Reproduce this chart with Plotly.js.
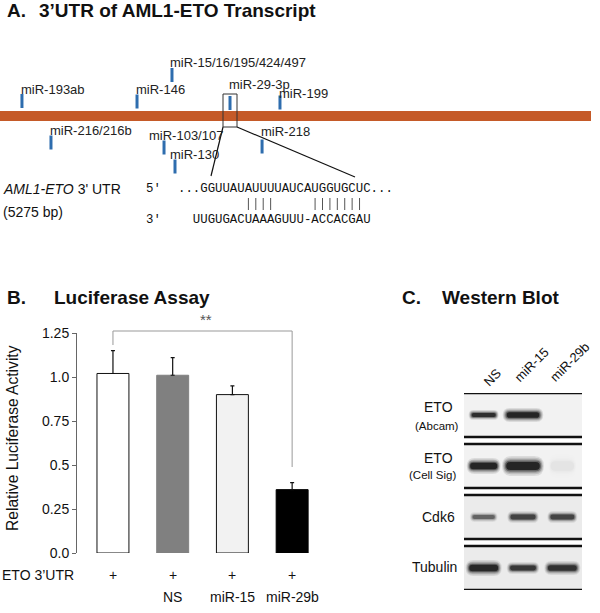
<!DOCTYPE html>
<html><head><meta charset="utf-8">
<script src="https://cdn.plot.ly/plotly-3.0.1.min.js"></script>
<style>html,body{margin:0;padding:0;background:#fff}#chart{width:600px;height:613px}</style>
</head><body><div id="chart"></div>
<script>
// ---------------- data ----------------
const utrLength = 5275;
const siteNames = ["miR-193ab","miR-216/216b","miR-146","miR-103/107","miR-15/16/195/424/497","miR-130","miR-29-3p","miR-218","miR-199"];
const sitePositions = [196, 455, 1223, 1464, 1535, 1562, 2053, 2339, 2499];
const seqUTR = "...GGUUAUAUUUUAUCAUGGUGCUC...";
const seqMiR = "  UUGUGACUAAAGUUU-ACCACGAU";
const pairLine = "         ||||     |||||||";

const lucGroups = [0, 1, 2, 3];
const lucConstruct = ["+", "+", "+", "+"];
const lucTreatment = ["", "NS", "miR-15", "miR-29b"];
const lucValues = [1.02, 1.01, 0.90, 0.36];
const lucErrors = [0.13, 0.10, 0.05, 0.04];
const lucTickVals = [0, 0.25, 0.5, 0.75, 1, 1.25];
const lucTickText = ["0.0", "0.25", "0.5", "0.75", "1.0", "1.25"];

const blotLanes = ["NS", "miR-15", "miR-29b"];
const blotRows = ["ETO", "ETO", "Cdk6", "Tubulin"];
const blotRowSub = ["(Abcam)", "(Cell Sig)", "", ""];
const bandIntensity = [[0.9, 1.0, 0.0], [1.0, 1.0, 0.035], [0.5, 0.72, 0.7], [0.95, 0.8, 0.85]];

// ---------------- styles / layout helpers ----------------
const bandWidth = [[0.66, 0.89, 0], [0.74, 0.92, 0.64], [0.61, 0.69, 0.66], [0.79, 0.71, 0.79]];
const bandThick = [[5, 7, 0], [8, 10, 12], [5, 6, 6], [8, 6, 7]];
const siteTickY = [101, 142.5, 101.5, 147.5, 75, 166.5, 103, 146.5, 102.5];
const siteLabelDx = [-1, -1, -1, -15, -2, -5, -1, -1, -1];
const siteLabelY = [89, 130, 89, 135, 62, 154, 84, 131, 93];

const W = 600, H = 613;
const FONT = "Liberation Sans, Arial, Helvetica, sans-serif";
const MONO = "Liberation Mono, Courier New, monospace";
const X = px => px / W;
const Y = py => 1 - py / H;
const utrPx = 591;
const pxToBp = px => px * utrLength / utrPx;
const nb = s => s.replace(/ /g, "\u00a0");

function ann(text, px, py, o) {
  return Object.assign({
    text: text, x: X(px), y: Y(py), xref: "paper", yref: "paper", showarrow: false,
    xanchor: "left", yanchor: "middle", borderpad: 0, borderwidth: 0,
    font: {family: FONT, size: 13, color: "#111"}
  }, o || {});
}
const f = (size, extra) => Object.assign({family: FONT, size: size, color: "#111"}, extra || {});

const annotations = [];
const shapes = [];

// ---- Panel A ----
annotations.push(ann("<b>A.</b>", 7, 11, {font: f(19)}));
annotations.push(ann("<b>3’UTR of AML1-ETO Transcript</b>", 39, 11, {font: f(19)}));
shapes.push({type: "rect", xref: "x2", yref: "y2", x0: 0, x1: utrLength, y0: 111, y1: 121,
  fillcolor: "#C55A28", line: {width: 0}, layer: "below"});
siteNames.forEach((n, i) => {
  annotations.push({text: n, xref: "x2", yref: "y2", x: sitePositions[i] + pxToBp(siteLabelDx[i]), y: siteLabelY[i],
    showarrow: false, xanchor: "left", yanchor: "middle", borderpad: 0, borderwidth: 0, font: f(13, {color: "#222"})});
});
const boxSite = sitePositions[6];
shapes.push({type: "rect", xref: "x2", yref: "y2", x0: boxSite - pxToBp(7), x1: boxSite + pxToBp(7), y0: 94, y1: 127,
  line: {color: "#333", width: 1}, fillcolor: "rgba(0,0,0,0)"});
shapes.push({type: "line", xref: "x2", yref: "y2", x0: boxSite - pxToBp(7), y0: 127, x1: pxToBp(211), y1: 176, line: {color: "#111", width: 1.2}});
shapes.push({type: "line", xref: "x2", yref: "y2", x0: boxSite + pxToBp(7), y0: 127, x1: pxToBp(355), y1: 177, line: {color: "#111", width: 1.2}});
annotations.push(ann("<i>AML1-ETO</i> 3' UTR", 3, 189, {font: f(14)}));
annotations.push(ann("(" + utrLength + " bp)", 3, 212, {font: f(14)}));
const monoSize = 12.35, charW = monoSize * 0.6, seqLeft = 178;
const mono = {family: MONO, size: monoSize, color: "#111"};
annotations.push(ann("5'", 146, 189, {font: mono}));
annotations.push(ann(nb(seqUTR), seqLeft, 189, {font: mono}));
annotations.push(ann("3'", 146, 220, {font: mono}));
annotations.push(ann(nb(seqMiR), seqLeft, 220, {font: mono}));
pairLine.split("").forEach((c, k) => {
  if (c !== "|") return;
  const xx = pxToBp(seqLeft + (k + 0.5) * charW);
  shapes.push({type: "line", xref: "x2", yref: "y2", x0: xx, x1: xx, y0: 198, y1: 210, line: {color: "#555", width: 1}});
});

// ---- Panel B ----
annotations.push(ann("<b>B.</b>", 7, 297, {font: f(19)}));
annotations.push(ann("<b>Luciferase Assay</b>", 54, 297, {font: f(19)}));
annotations.push(ann("Relative Luciferase Activity", 12, 438, {xanchor: "center", textangle: -90, font: f(15.6)}));
annotations.push(ann("ETO 3’UTR", 2, 575, {font: f(14)}));
lucGroups.forEach((g, i) => {
  annotations.push({text: lucConstruct[i], xref: "x", yref: "paper", x: g, y: Y(575), showarrow: false,
    xanchor: "center", yanchor: "middle", font: f(14)});
  if (lucTreatment[i]) annotations.push({text: lucTreatment[i], xref: "x", yref: "paper", x: g, y: Y(597), showarrow: false,
    xanchor: "center", yanchor: "middle", font: f(14)});
});
shapes.push({type: "path", xref: "x", yref: "paper",
  path: `M 0,${Y(345)} L 0,${Y(331)} L 3,${Y(331)} L 3,${Y(467)}`, line: {color: "#999", width: 1}});
annotations.push({text: "**", xref: "x", yref: "paper", x: 1.55, y: Y(319), showarrow: false,
  xanchor: "center", yanchor: "middle", font: f(15, {color: "#555"})});

// ---- Panel C ----
annotations.push(ann("<b>C.</b>", 402, 297, {font: f(19)}));
annotations.push(ann("<b>Western Blot</b>", 442, 297, {font: f(19)}));
const laneLabelPos = [[492, 377], [532, 365], [569, 362]];
blotLanes.forEach((l, j) => {
  annotations.push(ann(l, laneLabelPos[j][0], laneLabelPos[j][1], {xanchor: "center", textangle: -45, font: f(13)}));
});
const rowLabelPos = [[438, 407, 437, 426], [438, 458, 432, 475], [438, 517], [434, 567]];
blotRows.forEach((r, i) => {
  const p = rowLabelPos[i];
  annotations.push(ann(r, p[0], p[1], {xanchor: "center", font: f(14)}));
  if (blotRowSub[i]) annotations.push(ann(blotRowSub[i], p[2], p[3], {xanchor: "center", font: f(11.5)}));
});
const rowHalf = 0.431, rowPx = 51, lanePx = 118 / 3;
const softLayers = [[1.16, 2.0, 0.10], [1.11, 1.65, 0.14], [1.06, 1.35, 0.22], [1.0, 1.08, 0.4], [0.93, 0.8, 0.8]];
blotRows.forEach((r, i) => {
  shapes.push({type: "rect", xref: "x3", yref: "y3", x0: -0.5, x1: 2.5, y0: i - rowHalf, y1: i + rowHalf,
    fillcolor: i < 2 ? "#f2f2f2" : "#ebebeb", line: {width: 0}, layer: "below"});
  [i - rowHalf, i + rowHalf].forEach(yy => shapes.push({type: "line", xref: "x3", yref: "y3", x0: -0.5, x1: 2.5, y0: yy, y1: yy,
    line: {color: "#111", width: 2.5}}));
  blotLanes.forEach((l, j) => {
    const I = bandIntensity[i][j];
    if (I <= 0) return;
    softLayers.forEach(s => {
      const hw = bandWidth[i][j] / 2 * s[0];
      const ht = bandThick[i][j] / 2 * s[1] / rowPx;
      const r = Math.min(ht * rowPx / lanePx, hw * 0.5);
      const x0 = j - hw, x1 = j + hw, y0 = i - ht, y1 = i + ht;
      const path = `M ${x0 + r},${y0} L ${x1 - r},${y0} Q ${x1},${y0} ${x1},${i} Q ${x1},${y1} ${x1 - r},${y1} ` +
        `L ${x0 + r},${y1} Q ${x0},${y1} ${x0},${i} Q ${x0},${y0} ${x0 + r},${y0} Z`;
      shapes.push({type: "path", xref: "x3", yref: "y3", path: path, fillcolor: "#151515",
        opacity: Math.min(1, I * s[2]), line: {width: 0}});
    });
  });
});

// ---------------- traces ----------------
const traces = [
  {type: "bar", x: lucGroups, y: lucValues, xaxis: "x", yaxis: "y",
    marker: {color: ["#ffffff", "#808080", "#f2f2f2", "#000000"], line: {color: ["#111", "#808080", "#111", "#000"], width: 1}},
    error_y: {type: "data", symmetric: false, array: lucErrors, arrayminus: lucErrors.map(() => 0), color: "#111", thickness: 1.2, width: 2},
    hoverinfo: "skip", showlegend: false},
  {type: "scatter", mode: "markers", x: sitePositions, y: siteTickY, xaxis: "x2", yaxis: "y2", cliponaxis: false,
    marker: {symbol: "line-ns", size: 10, line: {width: 3, color: "#2E6DAE"}}, hoverinfo: "skip", showlegend: false},
  {type: "scatter", mode: "markers", x: [0, 1, 2], y: [0, 0, 0], xaxis: "x3", yaxis: "y3",
    marker: {opacity: 0}, hoverinfo: "skip", showlegend: false}
];

const layout = {
  width: W, height: H, margin: {l: 0, r: 0, t: 0, b: 0},
  paper_bgcolor: "#fff", plot_bgcolor: "rgba(0,0,0,0)", showlegend: false,
  font: {family: FONT, color: "#111"},
  bargap: 0.465,
  xaxis: {domain: [X(77), X(322)], range: [-0.602, 3.5], showline: false, showticklabels: false, ticks: "",
    showgrid: false, zeroline: false, fixedrange: true},
  yaxis: {domain: [Y(553), Y(333)], range: [0, 1.25], tickvals: lucTickVals, ticktext: lucTickText,
    showline: true, linecolor: "#666", linewidth: 1, ticks: "outside", ticklen: 4, tickcolor: "#666",
    tickfont: {family: FONT, size: 14, color: "#111"}, showgrid: false, zeroline: false, fixedrange: true},
  xaxis2: {domain: [0, 1], range: [0, pxToBp(W)], anchor: "y2", visible: false, fixedrange: true},
  yaxis2: {domain: [0, 1], range: [H, 0], anchor: "x2", visible: false, fixedrange: true},
  xaxis3: {domain: [X(464), X(582)], range: [-0.5, 2.5], anchor: "y3", visible: false, fixedrange: true},
  yaxis3: {domain: [Y(590), Y(393)], range: [3 + rowHalf, -rowHalf], anchor: "x3", visible: false, fixedrange: true},
  shapes: shapes, annotations: annotations
};

Plotly.newPlot("chart", traces, layout, {displayModeBar: false, staticPlot: true});
</script></body></html>
